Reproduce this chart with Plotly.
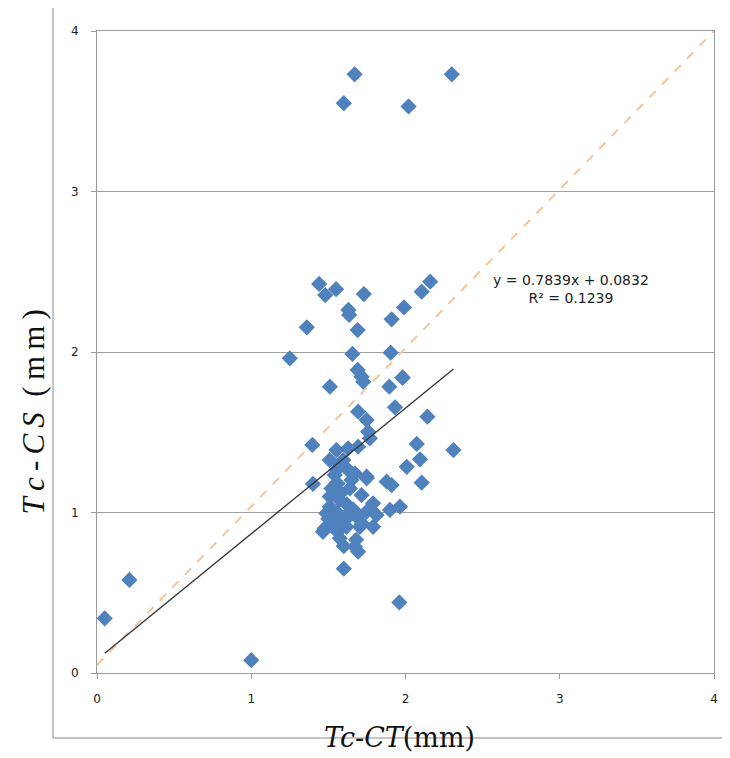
import plotly.graph_objects as go

# Scatter data: Tc-CT (x) vs Tc-CS (y), in mm
tc_ct = [
    0.05, 0.21, 1.00, 1.96, 1.60,
    1.67, 1.60, 2.02, 2.30,
    1.44, 1.48, 1.55, 1.73, 1.63, 1.635, 1.36, 1.69, 1.91, 1.99, 2.105, 2.16,
    1.25, 1.656, 1.904, 1.69, 1.715, 1.726, 1.98,
    1.51, 1.895, 1.982, 1.932, 1.693, 1.748, 2.142, 1.758, 1.769, 1.396, 2.073, 2.311,
    1.552, 1.628, 1.693, 1.509, 1.596, 2.094, 2.008, 1.628, 1.552, 1.672, 1.748,
    1.40, 1.541, 1.552, 1.65, 1.748, 1.878, 1.91, 2.105, 1.715, 1.509, 1.574, 1.79,
    1.899, 1.964, 1.487, 1.552, 1.617, 1.683, 1.748, 1.812, 1.476, 1.541, 1.617,
    1.704, 1.79, 1.465, 1.574, 1.672, 1.693, 1.607, 1.509,
    1.52, 1.58, 1.62, 1.55, 1.66, 1.58, 1.64, 1.50, 1.56, 1.60, 1.68, 1.72, 1.56,
]
tc_cs = [
    0.34, 0.58, 0.08, 0.44, 0.65,
    3.73, 3.55, 3.53, 3.73,
    2.424, 2.355, 2.391, 2.361, 2.262, 2.231, 2.154, 2.137, 2.204, 2.278, 2.376, 2.438,
    1.961, 1.988, 1.996, 1.888, 1.846, 1.815, 1.84,
    1.784, 1.784, 1.84, 1.655, 1.628, 1.576, 1.597, 1.503, 1.462, 1.421, 1.427, 1.389,
    1.389, 1.40, 1.41, 1.327, 1.327, 1.331, 1.285, 1.265, 1.265, 1.244, 1.223,
    1.178, 1.234, 1.182, 1.202, 1.213, 1.192, 1.171, 1.186, 1.109, 1.099, 1.078, 1.057,
    1.016, 1.036, 0.995, 1.005, 0.984, 0.974, 1.005, 0.984, 0.901, 0.922, 0.911,
    0.911, 0.911, 0.88, 0.839, 0.787, 0.756, 0.953, 1.036,
    1.15, 1.12, 1.05, 0.95, 1.02, 1.30, 1.15, 0.96, 0.88, 0.79, 0.83, 0.93, 1.18,
]

# Linear trend (from the chart's equation)
trend_slope = 0.7839
trend_intercept = 0.0832
equation_lines = ["y = 0.7839x + 0.0832", "R² = 0.1239"]

# Reference line y = x
ref_x = [0, 4]
ref_y = [0.05, 4]

x_ticks = [0, 1, 2, 3, 4]
y_ticks = [0, 1, 2, 3, 4]

x0, x1 = min(tc_ct), max(tc_ct)
trend_x = [x0, x1]
trend_y = [trend_slope * v + trend_intercept for v in trend_x]

fig = go.Figure()
fig.add_trace(go.Scatter(
    x=ref_x, y=ref_y, mode="lines",
    line=dict(color="#F4C49C", width=2, dash="dash"),
    hoverinfo="skip", showlegend=False))
fig.add_trace(go.Scatter(
    x=tc_ct, y=tc_cs, mode="markers",
    marker=dict(symbol="diamond", size=12.5, color="#4F81BD", line=dict(width=0)),
    showlegend=False))
fig.add_trace(go.Scatter(
    x=trend_x, y=trend_y, mode="lines",
    line=dict(color="#333333", width=1.3),
    hoverinfo="skip", showlegend=False))

axis_common = dict(
    showline=True, linecolor="#9A9A9A", linewidth=1, mirror=True,
    ticks="outside", ticklen=5, tickcolor="#9A9A9A",
    tickfont=dict(family="DejaVu Sans", size=12, color="#222222"),
    zeroline=False,
)
fig.update_xaxes(range=[0, 4], tickvals=x_ticks, showgrid=False,
                 ticklabelstandoff=10, **axis_common)
fig.update_yaxes(range=[0, 4], tickvals=y_ticks, showgrid=True,
                 gridcolor="#A0A0A0", gridwidth=1,
                 ticklabelstandoff=10, **axis_common)

fig.add_annotation(
    x=0.768, y=0.598, xref="paper", yref="paper",
    xanchor="center", yanchor="middle",
    text="<br>".join(equation_lines), showarrow=False, align="center",
    font=dict(family="DejaVu Sans", size=14, color="#222222"))

fig.add_annotation(
    x=0.49, y=-0.101, xref="paper", yref="paper",
    xanchor="center", yanchor="middle",
    text="<i>Tc-CT</i>(mm)", showarrow=False,
    font=dict(family="DejaVu Serif", size=27, color="#111111"))
fig.add_annotation(
    x=-0.103, y=0.4065, xref="paper", yref="paper",
    xanchor="center", yanchor="middle",
    text="<i>T\u2009c\u2009-\u2009C\u2009S</i>\u2002(\u2009m\u2009m\u2009)",
    textangle=-90, showarrow=False,
    font=dict(family="Liberation Serif", size=31, color="#111111"))

# outer chart frame (left and bottom edges visible)
fig.add_shape(type="line", xref="paper", yref="paper",
              x0=-0.0713, x1=-0.0713, y0=-0.1012, y1=1.05,
              line=dict(color="#8A8A8A", width=1))
fig.add_shape(type="line", xref="paper", yref="paper",
              x0=-0.0713, x1=1.03, y0=-0.1012, y1=-0.1012,
              line=dict(color="#8A8A8A", width=1))

# page has an 8px body margin, so figure is sized/offset to compensate
fig.update_layout(
    width=722, height=750,
    margin=dict(l=89, r=16, t=23, b=85),
    paper_bgcolor="white", plot_bgcolor="white",
)
fig.write_html("out.html")
